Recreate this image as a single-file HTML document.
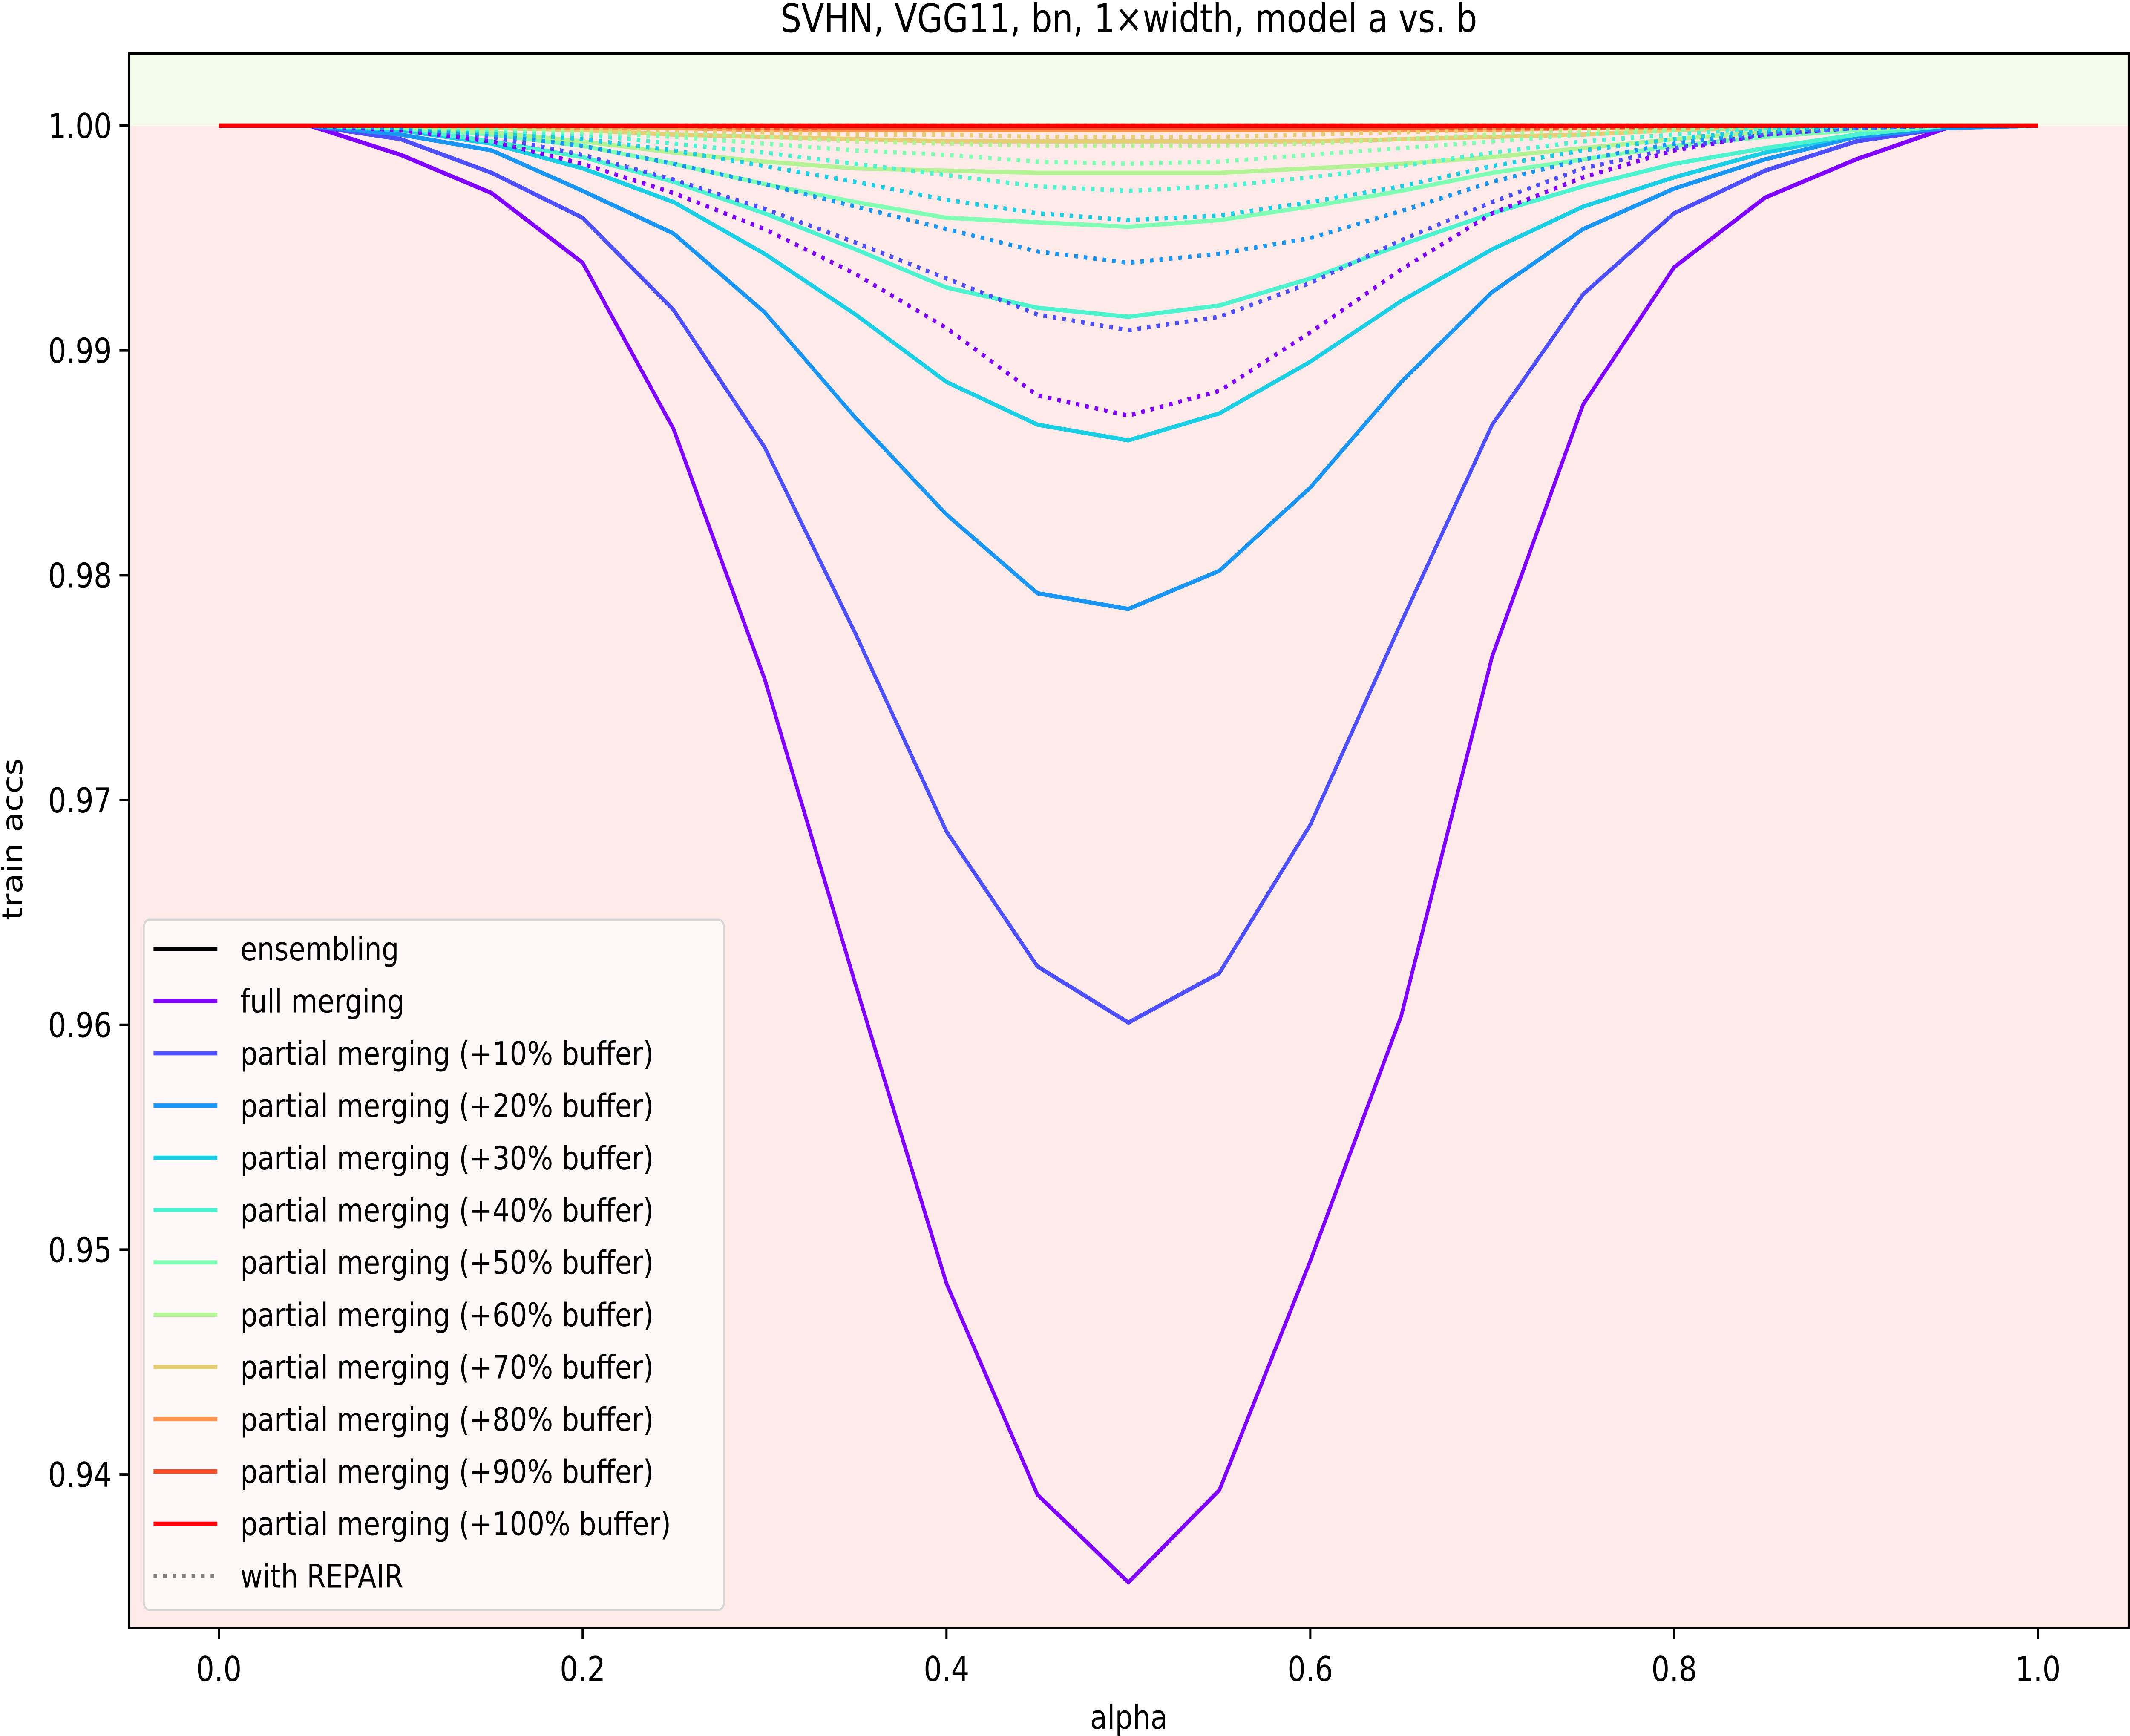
<!DOCTYPE html>
<html><head><meta charset="utf-8"><style>
html,body{margin:0;padding:0;background:#fff;overflow:hidden;width:100vw;height:100vh;}
svg{display:block;position:absolute;left:0;top:0;width:100vw;height:100vh;font-family:"DejaVu Sans","Liberation Sans",sans-serif;}
</style></head><body>
<svg id="chart" viewBox="0 0 5938 4075" preserveAspectRatio="none" xmlns="http://www.w3.org/2000/svg"></svg>
<script>
const alphas=[0,0.05,0.1,0.15,0.2,0.25,0.3,0.35,0.4,0.45,0.5,0.55,0.6,0.65,0.7,0.75,0.8,0.85,0.9,0.95,1];
const seriesNames=["full merging","partial merging (+10% buffer)","partial merging (+20% buffer)","partial merging (+30% buffer)","partial merging (+40% buffer)","partial merging (+50% buffer)","partial merging (+60% buffer)","partial merging (+70% buffer)","partial merging (+80% buffer)","partial merging (+90% buffer)","partial merging (+100% buffer)"];
const ensembleAcc=[1,1,1,1,1,1,1,1,1,1,1,1,1,1,1,1,1,1,1,1,1];
const accFull=[1,1,.9987,.9970,.9939,.9865,.9754,.9618,.9485,.9391,.9352,.9393,.9495,.9604,.9764,.9876,.9937,.9968,.9985,.9999,1];
const acc10=[1,1,.9994,.9979,.9959,.9918,.9857,.9774,.9686,.9626,.9601,.9623,.9689,.9779,.9867,.9925,.9961,.9980,.9993,.9999,1];
const acc20=[1,1,.9996,.9989,.9971,.9952,.9917,.9870,.9827,.9792,.9785,.9802,.9839,.9886,.9926,.9954,.9972,.9985,.9995,.9999,1];
const acc30=[1,1,.9998,.9992,.9981,.9966,.9943,.9916,.9886,.9867,.9860,.9872,.9895,.9922,.9945,.9964,.9977,.9988,.9996,1,1];
const acc40=[1,1,.9999,.9993,.9986,.9975,.9961,.9945,.9928,.9919,.9915,.9920,.9932,.9947,.9961,.9973,.9983,.9990,.9996,1,1];
const acc50=[1,1,.9999,.9996,.9991,.9983,.9974,.9966,.9959,.9957,.9955,.9958,.9964,.9971,.9979,.9985,.9991,.9995,.9998,1,1];
const acc60=[1,1,1,.9997,.9993,.9988,.9984,.9981,.9980,.9979,.9979,.9979,.9981,.9983,.9986,.9990,.9994,.9997,.9999,1,1];
const acc70=[1,1,1,.9999,.9998,.9996,.9995,.9994,.9993,.9993,.9993,.9993,.9993,.9994,.9995,.9996,.9998,.9999,1,1,1];
const acc80=[1,1,1,1,.9999,.9999,.9998,.9998,.9998,.9998,.9998,.9998,.9998,.9998,.9998,.9999,.9999,1,1,1,1];
const acc90=[1,1,1,1,1,1,.9999,.9999,.9999,.9999,.9999,.9999,.9999,.9999,.9999,.9999,1,1,1,1,1];
const acc100=[1,1,1,1,1,1,1,1,1,1,1,1,1,1,1,1,1,1,1,1,1];
const repFull=[1,1,.9998,.9993,.9983,.9970,.9954,.9934,.9910,.9880,.9871,.9882,.9908,.9936,.9961,.9977,.9989,.9996,.9999,1,1];
const rep10=[1,1,.9999,.9995,.9987,.9976,.9963,.9948,.9932,.9916,.9909,.9915,.9930,.9949,.9966,.9981,.9990,.9996,.9999,1,1];
const rep20=[1,1,.9999,.9996,.9991,.9983,.9974,.9964,.9954,.9944,.9939,.9943,.9950,.9962,.9975,.9985,.9992,.9997,.9999,1,1];
const rep30=[1,1,1,.9997,.9994,.9989,.9982,.9975,.9967,.9961,.9958,.9960,.9966,.9973,.9982,.9989,.9994,.9998,1,1,1];
const rep40=[1,1,1,.9998,.9996,.9992,.9988,.9983,.9978,.9973,.9971,.9973,.9977,.9982,.9988,.9993,.9996,.9999,1,1,1];
const rep50=[1,1,1,.9999,.9997,.9995,.9992,.9989,.9987,.9984,.9983,.9984,.9987,.9990,.9993,.9996,.9998,1,1,1,1];
const rep60=[1,1,1,1,.9998,.9997,.9995,.9993,.9992,.9991,.9991,.9991,.9992,.9994,.9996,.9998,.9999,1,1,1,1];
const rep70=[1,1,1,1,.9999,.9998,.9997,.9996,.9996,.9995,.9995,.9995,.9996,.9997,.9998,.9999,1,1,1,1,1];
const rep80=[1,1,1,1,1,.9999,.9999,.9998,.9998,.9998,.9998,.9998,.9998,.9999,.9999,1,1,1,1,1,1];
const rep90=[1,1,1,1,1,1,1,.9999,.9999,.9999,.9999,.9999,.9999,.9999,1,1,1,1,1,1,1];
const rep100=[1,1,1,1,1,1,1,1,1,1,1,1,1,1,1,1,1,1,1,1,1];
const xTicks=[0,0.2,0.4,0.6,0.8,1.0];
const xTickLabels=["0.0","0.2","0.4","0.6","0.8","1.0"];
const yTicks=[0.94,0.95,0.96,0.97,0.98,0.99,1.00];
const yTickLabels=["0.94","0.95","0.96","0.97","0.98","0.99","1.00"];

const solidSeries=[accFull,acc10,acc20,acc30,acc40,acc50,acc60,acc70,acc80,acc90,acc100];
const dashSeries=[repFull,rep10,rep20,rep30,rep40,rep50,rep60,rep70,rep80,rep90,rep100];
const colors=["#8000ff","#4d4ffc","#1996f3","#1acee3","#4df3ce","#80ffb4","#b3f396","#e6ce74","#ff964f","#ff4f28","#ff0000"];

const L=360,R=5935,T=125,B=3821;
const X0=-0.0493,X1=1.05,Y0=0.93318,Y1=1.00322;
const sx=v=>L+(v-X0)/(X1-X0)*(R-L);
const sy=v=>B-(v-Y0)/(Y1-Y0)*(B-T);
const svg=document.getElementById('chart');
const NS="http://www.w3.org/2000/svg";
function mk(tag,attrs,parent){const e=document.createElementNS(NS,tag);for(const k in attrs)e.setAttribute(k,attrs[k]);(parent||svg).appendChild(e);return e;}
function txt(s,attrs){const e=mk('text',attrs);e.textContent=s;return e;}

let e;
e=mk('rect',{x:L,y:T,width:R-L,height:sy(1)-T,fill:'#f4fdeb'});


e=mk('rect',{x:L,y:sy(1),width:R-L,height:B-sy(1),fill:'#ffeaea'});



const clip=mk('clipPath',{id:'plotclip'});mk('rect',{x:L,y:T,width:R-L,height:B-T},clip);
const g=mk('g',{'clip-path':'url(#plotclip)'});
function pts(arr){return arr.map((v,i)=>sx(alphas[i]).toFixed(1)+','+sy(v).toFixed(1)).join(' ');}
for(let k=0;k<solidSeries.length;k++){
  const p=mk('polyline',{points:pts(solidSeries[k]),fill:'none',stroke:colors[k],'stroke-width':10,'stroke-linejoin':'round'},g);
  
  
}
for(let k=0;k<dashSeries.length;k++){
  const p=mk('polyline',{points:pts(dashSeries[k]),fill:'none',stroke:colors[k],'stroke-width':10,'stroke-dasharray':'10,16.5'},g);
  
  
}
e=mk('polyline',{points:pts(ensembleAcc),fill:'none',stroke:'#000','stroke-width':10},g);


e=mk('polyline',{points:pts(acc100),fill:'none',stroke:'#ff0000','stroke-width':10},g);



e=mk('rect',{x:L,y:T,width:R-L,height:B-T,fill:'none',stroke:'#000','stroke-width':6});



xTicks.forEach((v,i)=>{
  const t=mk('line',{x1:sx(v),x2:sx(v),y1:B,y2:B+27,stroke:'#000','stroke-width':6});
  
  
  const l=txt(xTickLabels[i],{x:sx(v),y:B+125,'font-size':80,'text-anchor':'middle',fill:'#000'});
  
  
});
yTicks.forEach((v,i)=>{
  const t=mk('line',{x1:L-27,x2:L,y1:sy(v),y2:sy(v),stroke:'#000','stroke-width':6});
  
  
  const l=txt(yTickLabels[i],{x:L-48,y:sy(v)+29,'font-size':80,'text-anchor':'end',fill:'#000'});
  
  
});
e=txt('SVHN, VGG11, bn, 1×width, model a vs. b',{x:3147,y:75,'font-size':92,'text-anchor':'middle',fill:'#000'});


e=txt('alpha',{x:3147,y:4058,'font-size':78,'text-anchor':'middle',fill:'#000'});


e=txt('train accs',{x:62,y:1970,'font-size':78,'text-anchor':'middle',fill:'#000',transform:'rotate(-90 62 1970)'});



// legend
const lg=mk('g',{});


mk('rect',{x:401,y:2159,width:1617,height:1620,rx:16,fill:'#fffafa','fill-opacity':0.9,stroke:'#d6d6d6','stroke-width':5},lg);
const legLabels=["ensembling"].concat(seriesNames).concat(["with REPAIR"]);
const legColors=["#000"].concat(colors).concat(["#808080"]);
legLabels.forEach((s,i)=>{
  const y=2227+i*122.7;
  const ln=mk('line',{x1:428,x2:606,y1:y,y2:y,stroke:legColors[i],'stroke-width':10},lg);
  if(i===legLabels.length-1)ln.setAttribute('stroke-dasharray','10,16.5');
  
  
  const t=mk('text',{x:670,y:y+27,'font-size':76,fill:'#000'},lg);
  t.textContent=s;
  
  
});
</script>
</body></html>
